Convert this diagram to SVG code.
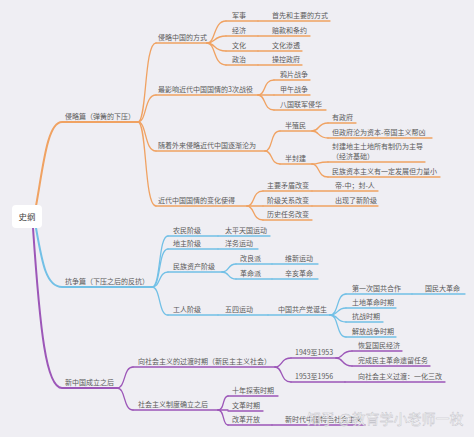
<svg xmlns="http://www.w3.org/2000/svg" width="474" height="437" viewBox="0 0 474 437">
<style>
text{font-family:"Noto Sans CJK SC","Noto Sans",sans-serif;font-size:7px;fill:#5a5a5a;stroke:none}
.c{fill:none;stroke-linecap:round}
.o{stroke:#f0a262}
.b{stroke:#72c0e6}
.p{stroke:#9c56b8}
.m{stroke-width:2}
.s{stroke-width:1.3}
.wm{font-size:14px;fill:#ffffff;stroke:#b8b8c0;stroke-width:0.4;opacity:0.9}
</style>
<rect width="474" height="437" fill="#efeef3"/>
<g id="connectors" class="c">
  <path class="o m" d="M36 206 C43 168 47 122 62 122 H138"/>
  <path class="b m" d="M36 228 C42 262 46 287 62 287 H152"/>
  <path class="p m" d="M33 228 C40 330 46 388 62 388 H117"/>
  <g class="o s">
    <path d="M138 122 C147 122 144 43 156 43"/>
    <path d="M138 122 C147 122 144 95 156 95"/>
    <path d="M138 122 C147 122 144 151 156 151"/>
    <path d="M138 122 C147 122 144 206 156 206"/>
    <path d="M207 43 C216 43 213 21 226 21"/>
    <path d="M207 43 C216 43 213 36 226 36"/>
    <path d="M207 43 C216 43 213 51 226 51"/>
    <path d="M207 43 C216 43 213 65 226 65"/>
    <path d="M258 95 C266 95 263 80 274 80"/>
    <path d="M258 95 H274"/>
    <path d="M258 95 C266 95 263 110 274 110"/>
    <path d="M265 151 C273 151 270 131 280 131"/>
    <path d="M265 151 C273 151 270 164 280 164"/>
    <path d="M312 131 C320 131 317 123 328 123"/>
    <path d="M312 131 C320 131 317 138 328 138"/>
    <path d="M312 164 C320 164 317 162 328 162"/>
    <path d="M312 164 C320 164 317 177 328 177"/>
    <path d="M247 206 C255 206 252 191 263 191"/>
    <path d="M247 206 H263"/>
    <path d="M247 206 C255 206 252 220 263 220"/>
  </g>
  <g class="b s">
    <path d="M152 287 C161 287 158 236 168 236"/>
    <path d="M152 287 C161 287 158 249 168 249"/>
    <path d="M152 287 C161 287 158 272 168 272"/>
    <path d="M152 287 C161 287 158 315 168 315"/>
    <path d="M222 272 C230 272 227 264 236 264"/>
    <path d="M222 272 C230 272 227 279 236 279"/>
    <path d="M330 315 C339 315 336 294 346 294"/>
    <path d="M330 315 C339 315 336 308 346 308"/>
    <path d="M330 315 C339 315 336 322 346 322"/>
    <path d="M330 315 C339 315 336 337 346 337"/>
  </g>
  <g class="p s">
    <path d="M117 388 C126 388 123 367 133 367"/>
    <path d="M117 388 C126 388 123 410 133 410"/>
    <path d="M275 367 C283 367 280 358 291 358"/>
    <path d="M275 367 C283 367 280 382 291 382"/>
    <path d="M336 358 C344 358 341 351 352 351"/>
    <path d="M336 358 C344 358 341 366 352 366"/>
    <path d="M218 410 C225 410 222 396 228 396"/>
    <path d="M218 410 H228"/>
    <path d="M218 410 C225 410 222 425 228 425"/>
  </g>
</g>
<g id="root"><rect x="12" y="205" width="30" height="23" rx="4" fill="#ffffff"/><text x="27" y="220" text-anchor="middle" style="font-size:8.5px;fill:#444">史纲</text></g>
<g id="n-qinlue"><text x="65" y="119">侵略篇（弹簧的下压）</text></g>
<g id="n-kangzheng"><text x="65" y="284">抗争篇（下压之后的反抗）</text></g>
<g id="n-xinzhongguo"><text x="65" y="385">新中国成立之后</text></g>
<g class="c o s">
  <g id="n-fangshi"><path d="M156 43 H207"/><text x="158" y="40">侵略中国的方式</text></g>
  <g id="n-junshi"><path d="M226 21 H258"/><text x="232" y="18">军事</text></g>
  <g id="n-junshi2"><path d="M258 21 H330"/><text x="272" y="18">首先和主要的方式</text></g>
  <g id="n-jingji"><path d="M226 36 H258"/><text x="232" y="33">经济</text></g>
  <g id="n-jingji2"><path d="M258 36 H310"/><text x="272" y="33">赔款和条约</text></g>
  <g id="n-wenhua"><path d="M226 51 H258"/><text x="232" y="48">文化</text></g>
  <g id="n-wenhua2"><path d="M258 51 H302"/><text x="272" y="48">文化渗透</text></g>
  <g id="n-zhengzhi"><path d="M226 65 H258"/><text x="232" y="62">政治</text></g>
  <g id="n-zhengzhi2"><path d="M258 65 H302"/><text x="272" y="62">操控政府</text></g>
  <g id="n-zhanyi"><path d="M156 95 H258"/><text x="158" y="92">最影响近代中国国情的3次战役</text></g>
  <g id="n-yapian"><path d="M274 80 H310"/><text x="280" y="77">鸦片战争</text></g>
  <g id="n-jiawu"><path d="M274 95 H310"/><text x="280" y="92">甲午战争</text></g>
  <g id="n-baguo"><path d="M274 110 H326"/><text x="280" y="107">八国联军侵华</text></g>
  <g id="n-lunwei"><path d="M156 151 H265"/><text x="158" y="148">随着外来侵略近代中国逐渐沦为</text></g>
  <g id="n-banzhimin"><path d="M280 131 H312"/><text x="285" y="128">半殖民</text></g>
  <g id="n-youzhengfu"><path d="M328 123 H356"/><text x="332" y="120">有政府</text></g>
  <g id="n-danzhengfu"><path d="M328 138 H432"/><text x="332" y="135">但政府沦为资本-帝国主义帮凶</text></g>
  <g id="n-banfengjian"><path d="M280 164 H312"/><text x="285" y="161">半封建</text></g>
  <g id="n-fengjian"><path d="M328 162 H425"/><text x="332" y="149">封建地主土地所有制仍为主导</text><text x="332" y="159">（经济基础）</text></g>
  <g id="n-minzu"><path d="M328 177 H440"/><text x="332" y="174">民族资本主义有一定发展但力量小</text></g>
  <g id="n-bianhua"><path d="M156 206 H247"/><text x="158" y="203">近代中国国情的变化使得</text></g>
  <g id="n-maodun"><path d="M263 191 H312"/><text x="267" y="188">主要矛盾改变</text></g>
  <g id="n-maodun2"><path d="M312 191 H378"/><text x="335" y="188">帝-中；封-人</text></g>
  <g id="n-jieji"><path d="M263 206 H312"/><text x="267" y="203">阶级关系改变</text></g>
  <g id="n-jieji2"><path d="M312 206 H378"/><text x="335" y="203">出现了新阶级</text></g>
  <g id="n-renwu"><path d="M263 220 H312"/><text x="267" y="217">历史任务改变</text></g>
</g>
<g class="c b s">
  <g id="n-nongmin"><path d="M168 236 H218"/><text x="173" y="233">农民阶级</text></g>
  <g id="n-taiping"><path d="M218 236 H270"/><text x="225" y="233">太平天国运动</text></g>
  <g id="n-dizhu"><path d="M168 249 H218"/><text x="173" y="246">地主阶级</text></g>
  <g id="n-yangwu"><path d="M218 249 H258"/><text x="225" y="246">洋务运动</text></g>
  <g id="n-zichan"><path d="M168 272 H222"/><text x="173" y="269">民族资产阶级</text></g>
  <g id="n-gailiang"><path d="M236 264 H272"/><text x="240" y="261">改良派</text></g>
  <g id="n-weixin"><path d="M272 264 H318"/><text x="285" y="261">维新运动</text></g>
  <g id="n-geming"><path d="M236 279 H272"/><text x="240" y="276">革命派</text></g>
  <g id="n-xinhai"><path d="M272 279 H318"/><text x="285" y="276">辛亥革命</text></g>
  <g id="n-gongren"><path d="M168 315 H218"/><text x="173" y="312">工人阶级</text></g>
  <g id="n-wusi"><path d="M218 315 H268"/><text x="225" y="312">五四运动</text></g>
  <g id="n-dansheng"><path d="M268 315 H330"/><text x="278" y="312">中国共产党诞生</text></g>
  <g id="n-guogong"><path d="M346 294 H412"/><text x="352" y="291">第一次国共合作</text></g>
  <g id="n-dageming"><path d="M412 294 H465"/><text x="425" y="291">国民大革命</text></g>
  <g id="n-tudi"><path d="M346 308 H396"/><text x="352" y="305">土地革命时期</text></g>
  <g id="n-kangzhan"><path d="M346 322 H383"/><text x="352" y="319">抗战时期</text></g>
  <g id="n-jiefang"><path d="M346 337 H396"/><text x="352" y="334">解放战争时期</text></g>
</g>
<g class="c p s">
  <g id="n-guodu"><path d="M133 367 H275"/><text x="138" y="364">向社会主义的过渡时期（新民主主义社会）</text></g>
  <g id="n-1949"><path d="M291 358 H336"/><text x="295" y="355">1949至1953</text></g>
  <g id="n-huifu"><path d="M352 351 H402"/><text x="358" y="348">恢复国民经济</text></g>
  <g id="n-wancheng"><path d="M352 366 H430"/><text x="358" y="363">完成民主革命遗留任务</text></g>
  <g id="n-1953"><path d="M291 382 H345"/><text x="295" y="379">1953至1956</text></g>
  <g id="n-yihua"><path d="M345 382 H445"/><text x="358" y="379">向社会主义过渡：一化三改</text></g>
  <g id="n-queli"><path d="M133 410 H218"/><text x="138" y="407">社会主义制度确立之后</text></g>
  <g id="n-shinian"><path d="M228 396 H278"/><text x="232" y="393">十年探索时期</text></g>
  <g id="n-wenge"><path d="M228 411 H263"/><text x="232" y="408">文革时期</text></g>
  <g id="n-gaige"><path d="M228 425 H272"/><text x="232" y="422">改革开放</text></g>
  <g id="n-xinshidai"><path d="M272 425 H365"/><text x="285" y="422">新时代中国特色社会主义</text></g>
</g>
<text class="wm" x="307" y="424">知乎 @教育学小老师一枚</text>
</svg>
